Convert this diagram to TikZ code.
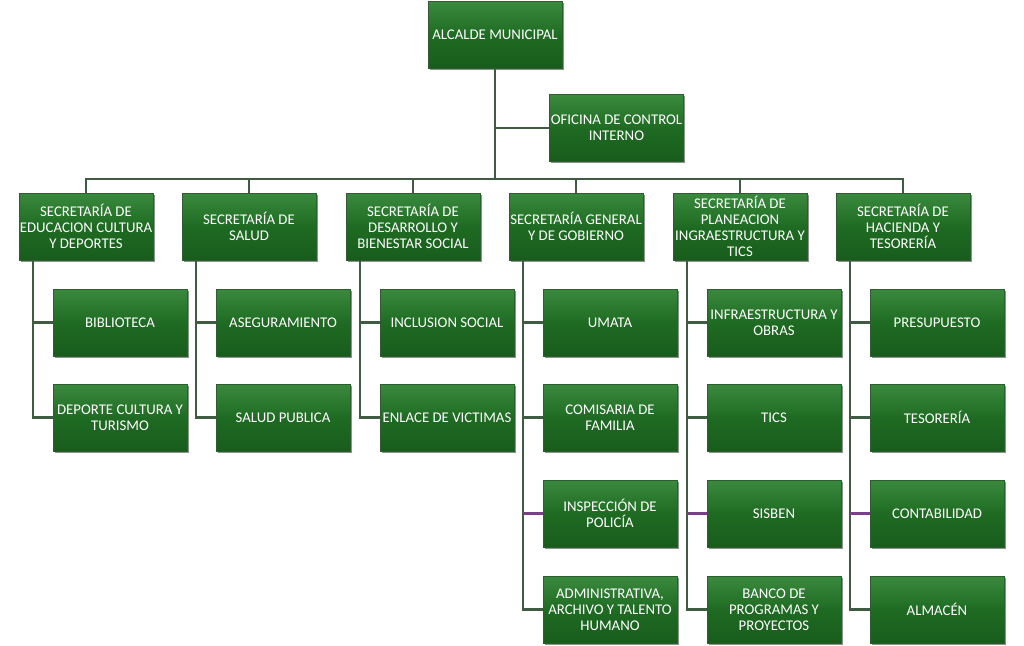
\documentclass[tikz,border=0pt]{standalone}
\usepackage{fontspec}
\setmainfont{Carlito}
\usetikzlibrary{shadows}
\definecolor{boxtop}{HTML}{3A8A3E}
\definecolor{boxmid}{HTML}{1F6B23}
\definecolor{boxbot}{HTML}{185C1C}
\definecolor{boxedge}{HTML}{2D5E30}
\definecolor{linecol}{HTML}{3F5C42}
\definecolor{linepurple}{HTML}{7A3E8A}
\tikzset{
  orgbox/.style={rectangle, minimum width=134pt, minimum height=67pt, inner sep=0pt,
    top color=boxtop, bottom color=boxbot, middle color=boxmid, draw=boxedge, line width=0.6pt,
    drop shadow={shadow xshift=1.5pt, shadow yshift=-1.5pt, fill=black!55, opacity=0.8},
    text=white, align=center, font=\fontsize{14.8}{16}\selectfont},
  conn/.style={draw=linecol, line width=2.4pt},
  connp/.style={draw=linepurple, line width=2.4pt}
}
\begin{document}
\begin{tikzpicture}[x=1pt,y=-1pt]
\useasboundingbox (0,0) rectangle (1024,645);
\fill[white] (0,0) rectangle (1024,645);
% top
\node[orgbox] (a) at (495,35) {ALCALDE MUNICIPAL};
\node[orgbox] (o) at (616.5,128) {OFICINA DE CONTROL\\INTERNO};
\coordinate (bus) at (495,179);
% secretarias
\node[orgbox] (s1) at (86,226.5) {SECRETARÍA DE\\EDUCACION CULTURA\\Y DEPORTES};
\node[orgbox] (s2) at (249,226.5) {SECRETARÍA DE\\SALUD};
\node[orgbox] (s3) at (413,226.5) {SECRETARÍA DE\\DESARROLLO Y\\BIENESTAR SOCIAL};
\node[orgbox] (s4) at (576,226.5) {SECRETARÍA GENERAL\\Y DE GOBIERNO};
\node[orgbox] (s5) at (740,226.5) {SECRETARÍA DE\\PLANEACION\\INGRAESTRUCTURA Y\\TICS};
\node[orgbox] (s6) at (903,226.5) {SECRETARÍA DE\\HACIENDA Y\\TESORERÍA};
% children
\node[orgbox] (c1a) at (120,322.5) {BIBLIOTECA};
\node[orgbox] (c1b) at (120,417.5) {DEPORTE CULTURA Y\\TURISMO};
\node[orgbox] (c2a) at (283,322.5) {ASEGURAMIENTO};
\node[orgbox] (c2b) at (283,417.5) {SALUD PUBLICA};
\node[orgbox] (c3a) at (447,322.5) {INCLUSION SOCIAL};
\node[orgbox] (c3b) at (447,417.5) {ENLACE DE VICTIMAS};
\node[orgbox] (c4a) at (610,322.5) {UMATA};
\node[orgbox] (c4b) at (610,417.5) {COMISARIA DE\\FAMILIA};
\node[orgbox] (c4c) at (610,513.5) {INSPECCIÓN DE\\POLICÍA};
\node[orgbox] (c4d) at (610,609.5) {ADMINISTRATIVA,\\ARCHIVO Y TALENTO\\HUMANO};
\node[orgbox] (c5a) at (774,322.5) {INFRAESTRUCTURA Y\\OBRAS};
\node[orgbox] (c5b) at (774,417.5) {TICS};
\node[orgbox] (c5c) at (774,513.5) {SISBEN};
\node[orgbox] (c5d) at (774,609.5) {BANCO DE\\PROGRAMAS Y\\PROYECTOS};
\node[orgbox] (c6a) at (937,322.5) {PRESUPUESTO};
\node[orgbox] (c6b) at (937,417.5) {TESORERÍA};
\node[orgbox] (c6c) at (937,513.5) {CONTABILIDAD};
\node[orgbox] (c6d) at (937,609.5) {ALMACÉN};
% connectors
\draw[conn] (a.south) -- (bus);
\draw[conn] (o.west) -| (bus);
\foreach \s in {s1,s2,s3,s4,s5,s6}{\draw[conn] (\s.north) |- (bus);}
\draw[conn] ([xshift=14pt]s1.south west) |- (c1a.west);
\draw[conn] ([xshift=14pt]s1.south west) |- (c1b.west);
\draw[conn] ([xshift=14pt]s2.south west) |- (c2a.west);
\draw[conn] ([xshift=14pt]s2.south west) |- (c2b.west);
\draw[conn] ([xshift=14pt]s3.south west) |- (c3a.west);
\draw[conn] ([xshift=14pt]s3.south west) |- (c3b.west);
\draw[conn] ([xshift=14pt]s4.south west) |- (c4a.west);
\draw[conn] ([xshift=14pt]s4.south west) |- (c4b.west);
\draw[conn] ([xshift=14pt]s4.south west) |- (c4d.west);
\draw[conn] ([xshift=14pt]s5.south west) |- (c5a.west);
\draw[conn] ([xshift=14pt]s5.south west) |- (c5b.west);
\draw[conn] ([xshift=14pt]s5.south west) |- (c5d.west);
\draw[conn] ([xshift=14pt]s6.south west) |- (c6a.west);
\draw[conn] ([xshift=14pt]s6.south west) |- (c6b.west);
\draw[conn] ([xshift=14pt]s6.south west) |- (c6d.west);
\draw[connp] ([xshift=14pt]s4.south west |- c4c.west) -- (c4c.west);
\draw[connp] ([xshift=14pt]s5.south west |- c5c.west) -- (c5c.west);
\draw[connp] ([xshift=14pt]s6.south west |- c6c.west) -- (c6c.west);
\end{tikzpicture}
\end{document}
